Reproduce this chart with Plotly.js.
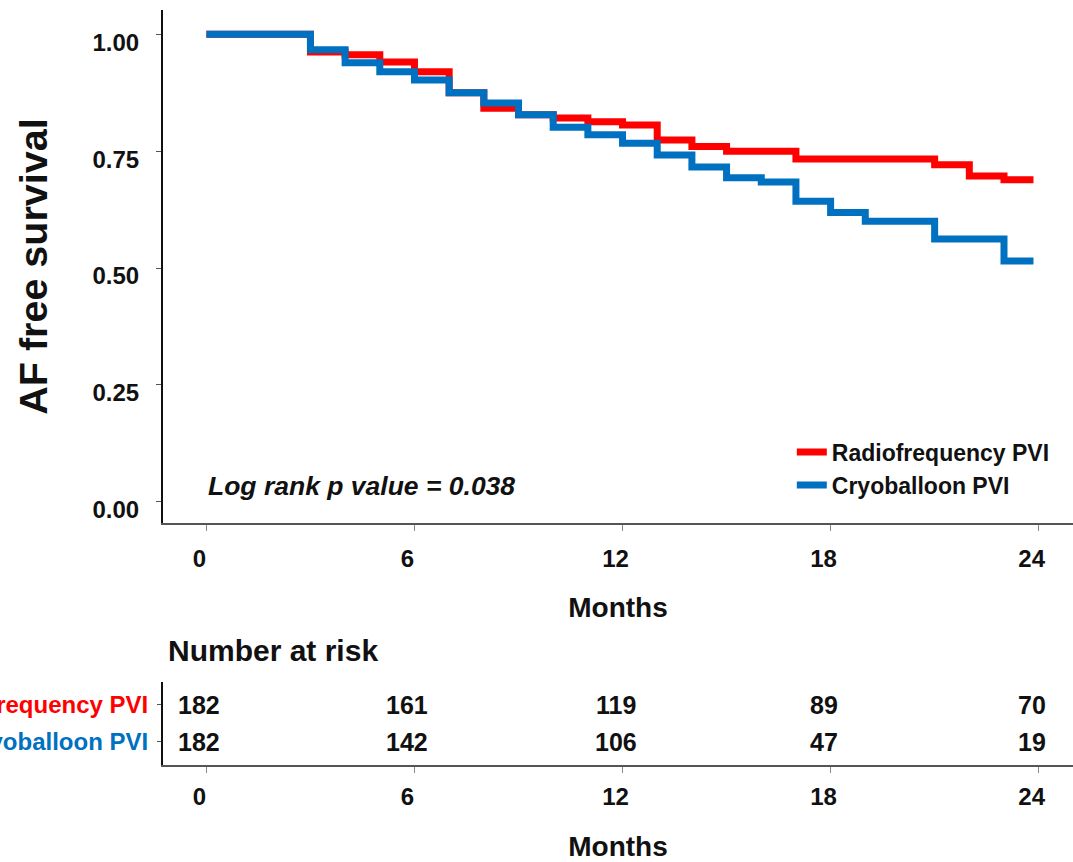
<!DOCTYPE html>
<html>
<head>
<meta charset="utf-8">
<script src="https://cdn.plot.ly/plotly-3.0.1.min.js"></script>
<style>html,body{margin:0;padding:0;background:#fff;}#chart{width:1073px;height:862px;}</style>
</head>
<body>
<div id="chart"></div>
<script>
// ---- data ----
const seriesNames = ["Radiofrequency PVI", "Cryoballoon PVI"];
const rfTime = [0, 3, 4, 5, 6, 7, 8, 9, 10, 11, 12, 13, 14, 15, 17, 21, 22, 23, 23.85];
const rfSurv = [1.000, 0.962, 0.956, 0.941, 0.920, 0.875, 0.842, 0.828, 0.821, 0.813, 0.806, 0.774, 0.760, 0.750, 0.733, 0.721, 0.697, 0.689, 0.689];
const cbTime = [0, 3, 4, 5, 6, 7, 8, 9, 10, 11, 12, 13, 14, 15, 16, 17, 18, 19, 21, 23, 23.85];
const cbSurv = [1.000, 0.967, 0.939, 0.920, 0.902, 0.875, 0.853, 0.828, 0.801, 0.785, 0.767, 0.742, 0.716, 0.693, 0.684, 0.643, 0.619, 0.600, 0.562, 0.515, 0.515];
const monthTicks = [0, 6, 12, 18, 24];
const survTicks = [0, 0.25, 0.5, 0.75, 1];
const riskRF = [182, 161, 119, 89, 70];
const riskCB = [182, 142, 106, 47, 19];
const pText = "Log rank p value = 0.038";

// ---- style ----
const RED = "#ff0000", BLUE = "#0070c0";
const SANS = "Liberation Sans, Arial, sans-serif";
const numFont = {family: SANS, size: 24, color: "#111", weight: 700};
const riskFont = {family: SANS, size: 25, color: "#111", weight: 700};

const traces = [
  {x: rfTime, y: rfSurv, name: seriesNames[0], type: "scatter", mode: "lines",
   line: {shape: "hv", color: RED, width: 7}, xaxis: "x", yaxis: "y"},
  {x: cbTime, y: cbSurv, name: seriesNames[1], type: "scatter", mode: "lines",
   line: {shape: "hv", color: BLUE, width: 7}, xaxis: "x", yaxis: "y"}
];

const annotations = [
  {text: pText, xref: "x", yref: "y", x: 0, y: 0.034, xanchor: "left", yanchor: "middle",
   showarrow: false, font: {family: SANS, size: 26.5, color: "#111", weight: 700, style: "italic"}},
  {text: "Number at risk", xref: "paper", yref: "paper", x: 0.0033, y: 0.1516, xanchor: "left", yanchor: "middle",
   showarrow: false, font: {family: SANS, size: 30, color: "#111", weight: 700}}
];
monthTicks.forEach((m, i) => {
  annotations.push({text: String(riskRF[i]), xref: "x2", yref: "y2", x: m, y: 2, xshift: -7,
    showarrow: false, font: riskFont});
  annotations.push({text: String(riskCB[i]), xref: "x2", yref: "y2", x: m, y: 1, xshift: -7,
    showarrow: false, font: riskFont});
});

const xCommon = {
  range: [-1.252, 24.99], tickvals: monthTicks, ticktext: monthTicks.map(String),
  showline: true, linecolor: "#555", linewidth: 2, ticks: "outside", ticklen: 6, tickcolor: "#888", tickwidth: 1.5,
  showgrid: false, zeroline: false, tickfont: numFont, ticklabelshift: -7,
  fixedrange: true
};

const layout = {
  width: 1073, height: 862,
  margin: {l: 163, r: 0, t: 10, b: 97},
  paper_bgcolor: "#fff", plot_bgcolor: "#fff",
  showlegend: true,
  legend: {x: 0.691, y: 0.443, xanchor: "left", yanchor: "top", bgcolor: "rgba(0,0,0,0)",
    font: {family: SANS, size: 23, color: "#111", weight: 700}, tracegroupgap: 0},
  xaxis: Object.assign({}, xCommon, {domain: [0, 1], anchor: "y", ticklabelstandoff: 7,
    title: {text: "Months", font: {family: SANS, size: 28, color: "#111", weight: 700}, standoff: 27}}),
  yaxis: {domain: [0.3205, 1], anchor: "x", range: [-0.0455, 1.052], tickvals: survTicks,
    ticktext: survTicks.map(v => v.toFixed(2)),
    showline: true, linecolor: "#111", linewidth: 2, ticks: "outside", ticklen: 5, tickcolor: "#555",
    showgrid: false, zeroline: false, tickfont: numFont, ticklabelshift: 8, ticklabelstandoff: 12,
    title: {text: "AF free survival", font: {family: SANS, size: 39.5, color: "#111", weight: 700}, standoff: 33},
    fixedrange: true},
  xaxis2: Object.assign({}, xCommon, {domain: [0, 1], anchor: "y2", ticklabelstandoff: 3,
    title: {text: "Months", font: {family: SANS, size: 28, color: "#111", weight: 700}, standoff: 30}}),
  yaxis2: {domain: [0, 0.1104], anchor: "x2", range: [0.379, 2.621], tickvals: [2, 1],
    ticktext: ['<span style="color:' + RED + '">' + seriesNames[0] + '</span>',
               '<span style="color:' + BLUE + '">' + seriesNames[1] + '</span>'],
    showline: true, linecolor: "#111", linewidth: 2, ticks: "outside", ticklen: 4, tickcolor: "#555",
    showgrid: false, zeroline: false, tickfont: {family: SANS, size: 24, weight: 700, color: "#111"},
    ticklabelstandoff: 4, fixedrange: true},
  annotations: annotations
};

Plotly.newPlot("chart", traces, layout, {displayModeBar: false, staticPlot: true});
</script>
</body>
</html>
